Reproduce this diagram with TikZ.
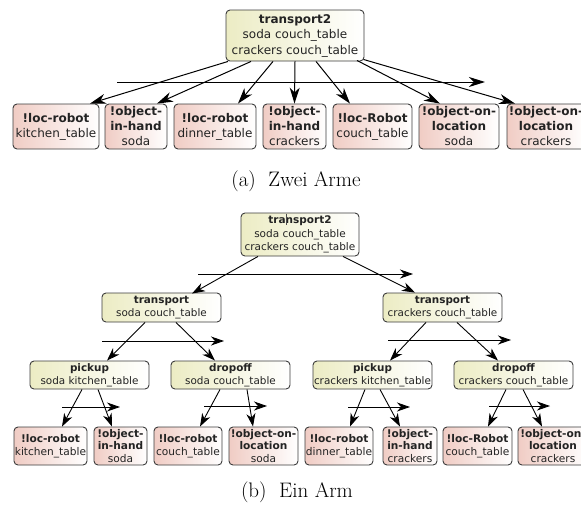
\documentclass[tikz,border=0pt]{standalone}
\usepackage{fontspec}
\newfontfamily\dvs{DejaVu Sans}
\usetikzlibrary{arrows.meta}
\definecolor{yelbox}{RGB}{236,236,196}
\definecolor{pinkbox}{RGB}{240,204,196}
\definecolor{boxline}{RGB}{60,60,60}
\definecolor{txt}{RGB}{35,35,35}
\tikzset{
  basebox/.style={draw=boxline, line width=0.9pt, rounded corners=4pt, inner sep=0pt, align=center, text=txt},
  ybox/.style={basebox, left color=yelbox, right color=white},
  pbox/.style={basebox, left color=pinkbox, right color=white},
  arra/.style={line width=1pt, -{Stealth[length=16pt,width=10pt,inset=5pt]}},
  arrb/.style={line width=0.9pt, -{Stealth[length=13pt,width=9pt,inset=4pt]}},
  capt/.style={font=\fontsize{21}{24}\selectfont, inner sep=0pt}
}
\begin{document}
\begin{tikzpicture}[x=1pt,y=-1pt]
\useasboundingbox (0,0) rectangle (581,512);
\fill[white] (0,0) rectangle (581,512);
% ---------------- (a)
\node[ybox, font=\dvs\fontsize{12}{15.5}\selectfont, minimum width=138pt, minimum height=51pt] (t2a) at (295,35.5)
  {\textbf{transport2}\\soda couch\_table\\crackers couch\_table};
\begin{scope}[every node/.style={pbox, font=\dvs\fontsize{12}{15}\selectfont, minimum height=45pt}]
\node[minimum width=86pt] (la1) at (56,126.5) {\textbf{!loc-robot}\\kitchen\_table};
\node[minimum width=62pt] (la2) at (136,126.5) {\textbf{!object-}\\\textbf{in-hand}\\soda};
\node[minimum width=82pt] (la3) at (215,126.5) {\textbf{!loc-robot}\\dinner\_table};
\node[minimum width=63pt] (la4) at (294.5,126.5) {\textbf{!object-}\\\textbf{in-hand}\\crackers};
\node[minimum width=79pt] (la5) at (372.5,126.5) {\textbf{!loc-Robot}\\couch\_table};
\node[minimum width=80pt] (la6) at (459,126.5) {\textbf{!object-on-}\\\textbf{location}\\soda};
\node[minimum width=78pt] (la7) at (546,126.5) {\textbf{!object-on-}\\\textbf{location}\\crackers};
\end{scope}
\draw[arra] ([xshift=-67pt]t2a.south) -- ([xshift=34pt]la1.north);
\draw[arra] ([xshift=-44pt]t2a.south) -- ([xshift=21pt]la2.north);
\draw[arra] ([xshift=-22pt]t2a.south) -- ([xshift=23pt]la3.north);
\draw[arra] (t2a.south) -- (la4.north);
\draw[arra] ([xshift=21pt]t2a.south) -- ([xshift=-22.5pt]la5.north);
\draw[arra] ([xshift=62pt,yshift=1pt]t2a.south) -- ([xshift=-19pt]la6.north);
\draw[arra] ([xshift=-1pt,yshift=2pt]t2a.south east) -- ([xshift=-31pt]la7.north);
\coordinate (ha1) at (117,82);
\coordinate (ha2) at (485,82);
\draw[arra] (ha1) -- (ha2);
\node[capt] (capa) at (296,181) {(a)\hspace{0.6em}Zwei Arme};
% ---------------- (b)
\node[ybox, font=\dvs\fontsize{10.5}{13.5}\selectfont, minimum width=118pt, minimum height=43pt] (t2b) at (300,234.5)
  {\textbf{transport2}\\soda couch\_table\\crackers couch\_table};
\draw[line width=0.5pt, black!70] (286,213.5) -- (286,225);
\begin{scope}[every node/.style={ybox, font=\dvs\fontsize{10.4}{12.5}\selectfont, minimum width=119pt, minimum height=29pt}]
\node (tl) at (161.5,307.5) {\textbf{transport}\\soda couch\_table};
\node (tr) at (442.5,307.5) {\textbf{transport}\\crackers couch\_table};
\end{scope}
\begin{scope}[every node/.style={ybox, font=\dvs\fontsize{10.4}{12.8}\selectfont, minimum width=119pt, minimum height=28pt}]
\node (pl) at (89.5,375) {\textbf{pickup}\\soda kitchen\_table};
\node (dl) at (230.5,375) {\textbf{dropoff}\\soda couch\_table};
\node (pr) at (372.5,375) {\textbf{pickup}\\crackers kitchen\_table};
\node (dr) at (513.5,375) {\textbf{dropoff}\\crackers couch\_table};
\end{scope}
\begin{scope}[every node/.style={pbox, font=\dvs\fontsize{10.6}{12.5}\selectfont, minimum height=38pt}]
\node[minimum width=73pt] (bl1) at (50.5,446) {\textbf{!loc-robot}\\kitchen\_table};
\node[minimum width=53pt] (bl2) at (120.5,446) {\textbf{!object-}\\\textbf{in-hand}\\soda};
\node[minimum width=68pt] (bl3) at (188,446) {\textbf{!loc-robot}\\couch\_table};
\node[minimum width=69pt] (bl4) at (263.5,446) {\textbf{!object-on-}\\\textbf{location}\\soda};
\node[minimum width=68pt] (bl5) at (339,446) {\textbf{!loc-robot}\\dinner\_table};
\node[minimum width=54pt] (bl6) at (410,446) {\textbf{!object-}\\\textbf{in-hand}\\crackers};
\node[minimum width=69pt] (bl7) at (477.5,446) {\textbf{!loc-Robot}\\couch\_table};
\node[minimum width=70pt] (bl8) at (553,446) {\textbf{!object-on-}\\\textbf{location}\\crackers};
\end{scope}
\draw[arrb] ([xshift=-42pt]t2b.south) -- ([xshift=30.5pt,yshift=-1pt]tl.north);
\draw[arrb] ([xshift=43pt]t2b.south) -- ([xshift=-27.5pt]tr.north);
\coordinate (hb1) at (198,274);
\coordinate (hb2) at (413,274);
\draw[arrb] (hb1) -- (hb2);
\draw[arrb] ([xshift=-16.5pt]tl.south) -- ([xshift=17.5pt]pl.north);
\draw[arrb] ([xshift=14.5pt]tl.south) -- ([xshift=-15.5pt]dl.north);
\coordinate (hc1) at (102,341);
\coordinate (hc2) at (224,341);
\draw[arrb] (hc1) -- (hc2);
\draw[arrb] ([xshift=-16.5pt]tr.south) -- ([xshift=17.5pt]pr.north);
\draw[arrb] ([xshift=14.5pt]tr.south) -- ([xshift=-15.5pt]dr.north);
\coordinate (hd1) at (388,340);
\coordinate (hd2) at (511,340);
\draw[arrb] (hd1) -- (hd2);
\draw[arrb] ([xshift=-7.5pt]pl.south) -- ([xshift=11.5pt]bl1.north);
\draw[arrb] ([xshift=8.5pt]pl.south) -- ([xshift=-8.5pt]bl2.north);
\coordinate (he1) at (62,407);
\coordinate (he2) at (120,407);
\draw[arrb] (he1) -- (he2);
\draw[arrb] ([xshift=-10.5pt]dl.south) -- ([xshift=12pt]bl3.north);
\draw[arrb] ([xshift=16.5pt]dl.south) -- ([xshift=-10.5pt]bl4.north);
\coordinate (hf1) at (204,406);
\coordinate (hf2) at (267,406);
\draw[arrb] (hf1) -- (hf2);
\draw[arrb] ([xshift=-7.5pt]pr.south) -- ([xshift=11pt]bl5.north);
\draw[arrb] ([xshift=7.5pt]pr.south) -- ([xshift=-10pt]bl6.north);
\coordinate (hg1) at (348,407);
\coordinate (hg2) at (410,407);
\draw[arrb] (hg1) -- (hg2);
\draw[arrb] ([xshift=-7.5pt]dr.south) -- ([xshift=10.5pt]bl7.north);
\draw[arrb] ([xshift=9.5pt]dr.south) -- ([xshift=-11pt]bl8.north);
\coordinate (hh1) at (489,406);
\coordinate (hh2) at (550,406);
\draw[arrb] (hh1) -- (hh2);
\node[capt] (capb) at (297,492) {(b)\hspace{0.6em}Ein Arm};
\end{tikzpicture}
\end{document}
